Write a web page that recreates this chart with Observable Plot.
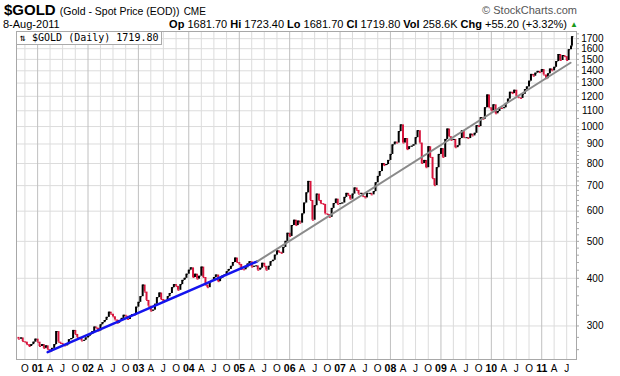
<!DOCTYPE html>
<html>
<head>
<meta charset="utf-8">
<script src="https://cdn.jsdelivr.net/npm/d3@7"></script>
<script src="https://cdn.jsdelivr.net/npm/@observablehq/plot@0.6"></script>
<style>
  html, body { margin: 0; padding: 0; background: #fff; }
  #wrap { position: relative; width: 620px; height: 376px; overflow: hidden; font-family: "Liberation Sans", Arial, sans-serif; }
  #wrap svg { position: absolute; left: 0; top: 0; }
  .abs { position: absolute; line-height: 1; white-space: nowrap; color: #000; }
  b { font-weight: bold; }
</style>
</head>
<body>
<div id="wrap">
  <div id="chart"></div>
  <div class="abs" style="left:4px;top:2px;font-size:15px;height:15px;"><span style="font-size:15px;font-weight:bold;">$GOLD</span> <span style="font-size:10.5px;">(Gold - Spot Price (EOD))</span> <span style="font-size:10px;">CME</span></div>
  <div class="abs" style="right:43px;top:5px;font-size:11px;color:#555;">© StockCharts.com</div>
  <div class="abs" style="left:3px;top:19px;font-size:11px;">8-Aug-2011</div>
  <div class="abs" style="right:53px;top:19px;font-size:11px;"><b>Op</b> 1681.70 <b>Hi</b> 1723.40 <b>Lo</b> 1681.70 <b>Cl</b> 1719.80 <b>Vol</b> 258.6K <b>Chg</b> +55.20 (+3.32%)</div>
  <div class="abs" style="left:570px;top:21px;font-size:8px;color:#1a9a1a;">▲</div>
  <div class="abs" style="left:16px;top:31px;height:11px;padding:1px 3px 0 3px;background:#fff;border:1px solid #aaa;font-family:'DejaVu Sans Mono',monospace;font-size:10px;">⇅ $GOLD (Daily) 1719.80</div>
</div>
<script>
// Semi-monthly closes (1st and 15th of each month)
const gold2000 = [280, 277, 279, 273, 272, 268, 265, 268, 272, 277]; // from Aug 2000
const gold2001 = [272, 265, 268, 262, 266, 260, 257, 262, 268, 290, 272, 270, 268, 266, 268, 276, 278, 292, 285, 280, 278, 274, 275, 279];
const gold2002 = [282, 285, 290, 298, 296, 291, 302, 306, 310, 316, 326, 322, 317, 311, 305, 310, 314, 320, 318, 312, 318, 321, 320, 336];
const gold2003 = [346, 358, 384, 368, 350, 338, 328, 330, 342, 356, 366, 352, 347, 350, 358, 365, 378, 385, 381, 372, 385, 395, 400, 410];
const gold2004 = [420, 426, 402, 410, 398, 405, 428, 402, 384, 378, 392, 395, 402, 408, 392, 400, 406, 408, 416, 422, 430, 440, 452, 440];
const gold2005 = [435, 422, 421, 426, 436, 442, 428, 430, 431, 420, 425, 438, 430, 420, 430, 442, 446, 460, 472, 468, 465, 482, 500, 525];
const gold2006 = [515, 550, 568, 550, 565, 558, 590, 630, 670, 718, 640, 568, 620, 665, 640, 628, 625, 590, 588, 578, 610, 628, 645, 625];
const gold2007 = [628, 630, 652, 668, 660, 645, 665, 690, 680, 665, 668, 655, 650, 668, 668, 662, 675, 712, 740, 762, 800, 790, 795, 815];
const gold2008 = [845, 895, 910, 905, 970, 1010, 905, 930, 870, 885, 888, 895, 935, 975, 905, 800, 815, 780, 885, 830, 730, 700, 780, 845];
const gold2009 = [875, 830, 925, 985, 940, 920, 925, 880, 890, 930, 975, 935, 935, 930, 955, 945, 960, 1005, 1000, 1055, 1045, 1120, 1210, 1120];
const gold2010 = [1100, 1140, 1080, 1095, 1120, 1115, 1120, 1150, 1180, 1230, 1220, 1245, 1200, 1190, 1185, 1215, 1250, 1270, 1315, 1370, 1355, 1380, 1395, 1385];
const gold2011 = [1410, 1365, 1335, 1375, 1415, 1400, 1430, 1480, 1545, 1490, 1535, 1525, 1490, 1590, 1625]; // to Aug 1 2011
const lastDate = "2011-08-08";
const lastClose = 1719.80;

// Trend lines (start / end points)
const blueTrend = [{date: "2001-03-15", value: 256}, {date: "2005-05-12", value: 443}];
const grayTrend = [{date: "2005-05-12", value: 443}, {date: "2011-07-29", value: 1470}];

// Axis ticks
const yTickValues = [300, 400, 500, 600, 700, 800, 900, 1000, 1100, 1200, 1300, 1400, 1500, 1600, 1700];
const yearTicks = ["2001", "2002", "2003", "2004", "2005", "2006", "2007", "2008", "2009", "2010", "2011"];
const yearLabels = ["01", "02", "03", "04", "05", "06", "07", "08", "09", "10", "11"];
const monthTicks = ["2000-10", "2001-04", "2001-07", "2001-10", "2002-04", "2002-07", "2002-10", "2003-04", "2003-07", "2003-10",
  "2004-04", "2004-07", "2004-10", "2005-04", "2005-07", "2005-10", "2006-04", "2006-07", "2006-10", "2007-04", "2007-07", "2007-10",
  "2008-04", "2008-07", "2008-10", "2009-04", "2009-07", "2009-10", "2010-04", "2010-07", "2010-10", "2011-04", "2011-07"];
const monthLetters = {"04": "A", "07": "J", "10": "O"};

// Build series table
const yearly = [[2000, 7, gold2000], [2001, 0, gold2001], [2002, 0, gold2002], [2003, 0, gold2003], [2004, 0, gold2004],
  [2005, 0, gold2005], [2006, 0, gold2006], [2007, 0, gold2007], [2008, 0, gold2008], [2009, 0, gold2009],
  [2010, 0, gold2010], [2011, 0, gold2011]];
const series = [];
for (const [yr, m0, arr] of yearly) {
  arr.forEach((v, i) => {
    const m = m0 + Math.floor(i / 2);
    const day = i % 2 === 0 ? 1 : 15;
    series.push({date: new Date(Date.UTC(yr, m, day)), close: v});
  });
}
series.push({date: new Date(lastDate), close: lastClose});
const bars = [];
for (let i = 1; i < series.length; i++) {
  bars.push({date: series[i].date, prev: series[i - 1].close, close: series[i].close, up: series[i].close >= series[i - 1].close});
}
const upBars = bars.filter(d => d.up);
const downBars = bars.filter(d => !d.up);

const yearDates = yearTicks.map(y => new Date(y + "-01-01"));
const monthDates = monthTicks.map(m => new Date(m + "-01"));
const quarterDates = monthDates;
const minorTicks = [];
for (let v = 260; v < 1000; v += 20) minorTicks.push(v);
for (let v = 1000; v <= 1750; v += 50) minorTicks.push(v);

const xDomain = [new Date("2000-08-01"), new Date("2011-09-10")];
const parse = d => new Date(d);

const plot = Plot.plot({
  width: 620,
  height: 376,
  marginLeft: 16,
  marginRight: 44,
  marginTop: 31,
  marginBottom: 17,
  x: {type: "utc", domain: xDomain, axis: null},
  y: {type: "log", domain: [245, 1775], axis: null},
  style: {background: "white", fontFamily: "'Liberation Sans', Arial, sans-serif", overflow: "visible"},
  marks: [
    Plot.ruleX(quarterDates, {stroke: "#dcdcdc", strokeWidth: 1}),
    Plot.ruleY(yTickValues, {stroke: "#dcdcdc", strokeWidth: 1}),
    Plot.ruleX(yearDates, {stroke: "#c0c0c0", strokeWidth: 1}),
    Plot.frame({stroke: "#a8a8a8"}),
    Plot.ruleY(minorTicks, {y: d => d, x1: () => xDomain[1], x2: () => xDomain[1], insetRight: -3, stroke: "#a8a8a8"}),
    Plot.text(yTickValues, {y: d => d, frameAnchor: "right", textAnchor: "end", dx: 27, text: d => String(d), fontSize: 10, fill: "#000"}),
    Plot.text(yearDates, {x: d => d, frameAnchor: "bottom", dy: 9, lineAnchor: "middle", text: (d, i) => yearLabels[i], fontSize: 10.5, fontWeight: "bold", fill: "#000"}),
    Plot.text(monthDates, {x: d => d, frameAnchor: "bottom", dy: 9, lineAnchor: "middle", text: (d, i) => monthLetters[monthTicks[i].slice(5)], fontSize: 10, fill: "#000"}),
    Plot.ruleX(downBars, {x: "date", y1: "prev", y2: "close", stroke: "#d8143c", strokeWidth: 2}),
    Plot.ruleX(upBars, {x: "date", y1: "prev", y2: "close", stroke: "#000", strokeWidth: 2}),
    Plot.ruleY(upBars, {y: "close", x1: "date", x2: "date", insetRight: -2, stroke: "#000", strokeWidth: 1}),
    Plot.ruleY(downBars, {y: "close", x1: "date", x2: "date", insetRight: -2, stroke: "#d8143c", strokeWidth: 1}),
    Plot.line(blueTrend, {x: d => parse(d.date), y: "value", stroke: "#1414ee", strokeWidth: 2.5}),
    Plot.line(grayTrend, {x: d => parse(d.date), y: "value", stroke: "#8a8a8a", strokeWidth: 2})
  ]
});
document.getElementById("chart").appendChild(plot);
</script>
</body>
</html>
